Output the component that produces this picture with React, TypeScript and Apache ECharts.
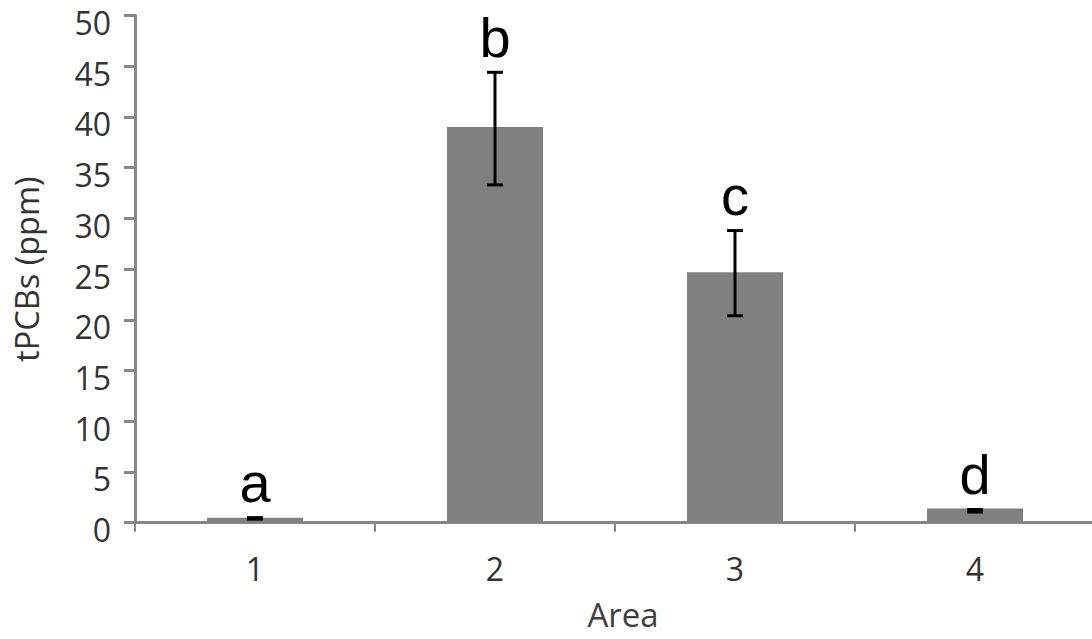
import React, { useEffect, useRef } from "react";
import * as echarts from "echarts";

const categories = ["1", "2", "3", "4"];
const means = [0.5, 39.0, 24.7, 1.4];
const errLow = [0.35, 33.3, 20.4, 1.05];
const errHigh = [0.5, 44.4, 28.8, 1.3];
const letters = ["a", "b", "c", "d"];
const yTicks = { min: 0, max: 50, interval: 5 };

export default function App() {
  const ref = useRef<HTMLDivElement>(null);
  useEffect(() => {
    if (!ref.current) return;
    const chart = echarts.init(ref.current, undefined, { renderer: "svg" });
    const axisGray = "#878787";
    const font = "'Open Sans', sans-serif";
    chart.setOption({
      animation: false,
      backgroundColor: "#ffffff",
      grid: { left: 135, right: -3, top: 15.5, bottom: 639 - 522.7, containLabel: false, outerBoundsMode: "none" },
      xAxis: {
        type: "category",
        data: categories,
        name: "Area",
        nameLocation: "middle",
        nameGap: 77,
        nameTextStyle: { fontFamily: font, fontSize: 33, lineHeight: 30, color: "#404040", padding: [0, 0, 0, 16] },
        axisLine: { lineStyle: { color: axisGray, width: 3 } },
        axisTick: { show: true, length: 9, lineStyle: { color: axisGray, width: 2 } },
        axisLabel: { fontFamily: font, fontSize: 32, color: "#333", margin: 30 },
      },
      yAxis: {
        type: "value",
        min: yTicks.min,
        max: yTicks.max,
        interval: yTicks.interval,
        name: "tPCBs (ppm)",
        nameLocation: "middle",
        nameGap: 92,
        nameTextStyle: { fontFamily: font, fontSize: 32.5, color: "#333" },
        splitLine: { show: false },
        axisLine: { show: true, lineStyle: { color: axisGray, width: 3 } },
        axisTick: { show: true, length: 11, lineStyle: { color: axisGray, width: 3 } },
        axisLabel: {
          margin: 24,
          formatter: "{v|{value}}",
          rich: { v: { fontFamily: font, fontSize: 32, color: "#333", padding: [14, 0, 0, 0] } },
        },
      },
      series: [
        {
          type: "bar",
          data: means,
          barWidth: 96,
          itemStyle: { color: "#808080" },
          z: 2,
        },
        {
          type: "custom",
          z: 5,
          data: categories.map((_, i) => [i, errLow[i], errHigh[i], letters[i]]),
          renderItem: (params: any, api: any) => {
            const i = api.value(0);
            const lo = api.coord([i, api.value(1)]);
            const hi = api.coord([i, api.value(2)]);
            const x = lo[0];
            const half = 8;
            const st = { stroke: "#000", lineWidth: 3 };
            return {
              type: "group",
              children: [
                { type: "line", shape: { x1: x, y1: hi[1], x2: x, y2: lo[1] }, style: st },
                { type: "line", shape: { x1: x - half, y1: hi[1], x2: x + half, y2: hi[1] }, style: st },
                { type: "line", shape: { x1: x - half, y1: lo[1], x2: x + half, y2: lo[1] }, style: st },
                {
                  type: "text",
                  x: x,
                  y: hi[1] - 7,
                  style: {
                    text: letters[i],
                    fontFamily: "'Liberation Sans', Arial, sans-serif",
                    fontSize: 56,
                    fill: "#000",
                    align: "center",
                    verticalAlign: "bottom",
                  },
                },
              ],
            };
          },
        },
      ],
    });
    return () => chart.dispose();
  }, []);
  return (
    <div style={{ position: "absolute", left: 0, top: 0, width: 1092, height: 639, overflow: "hidden", background: "#fff" }}>
      <div ref={ref} style={{ width: 1092, height: 639 }} />
    </div>
  );
}
